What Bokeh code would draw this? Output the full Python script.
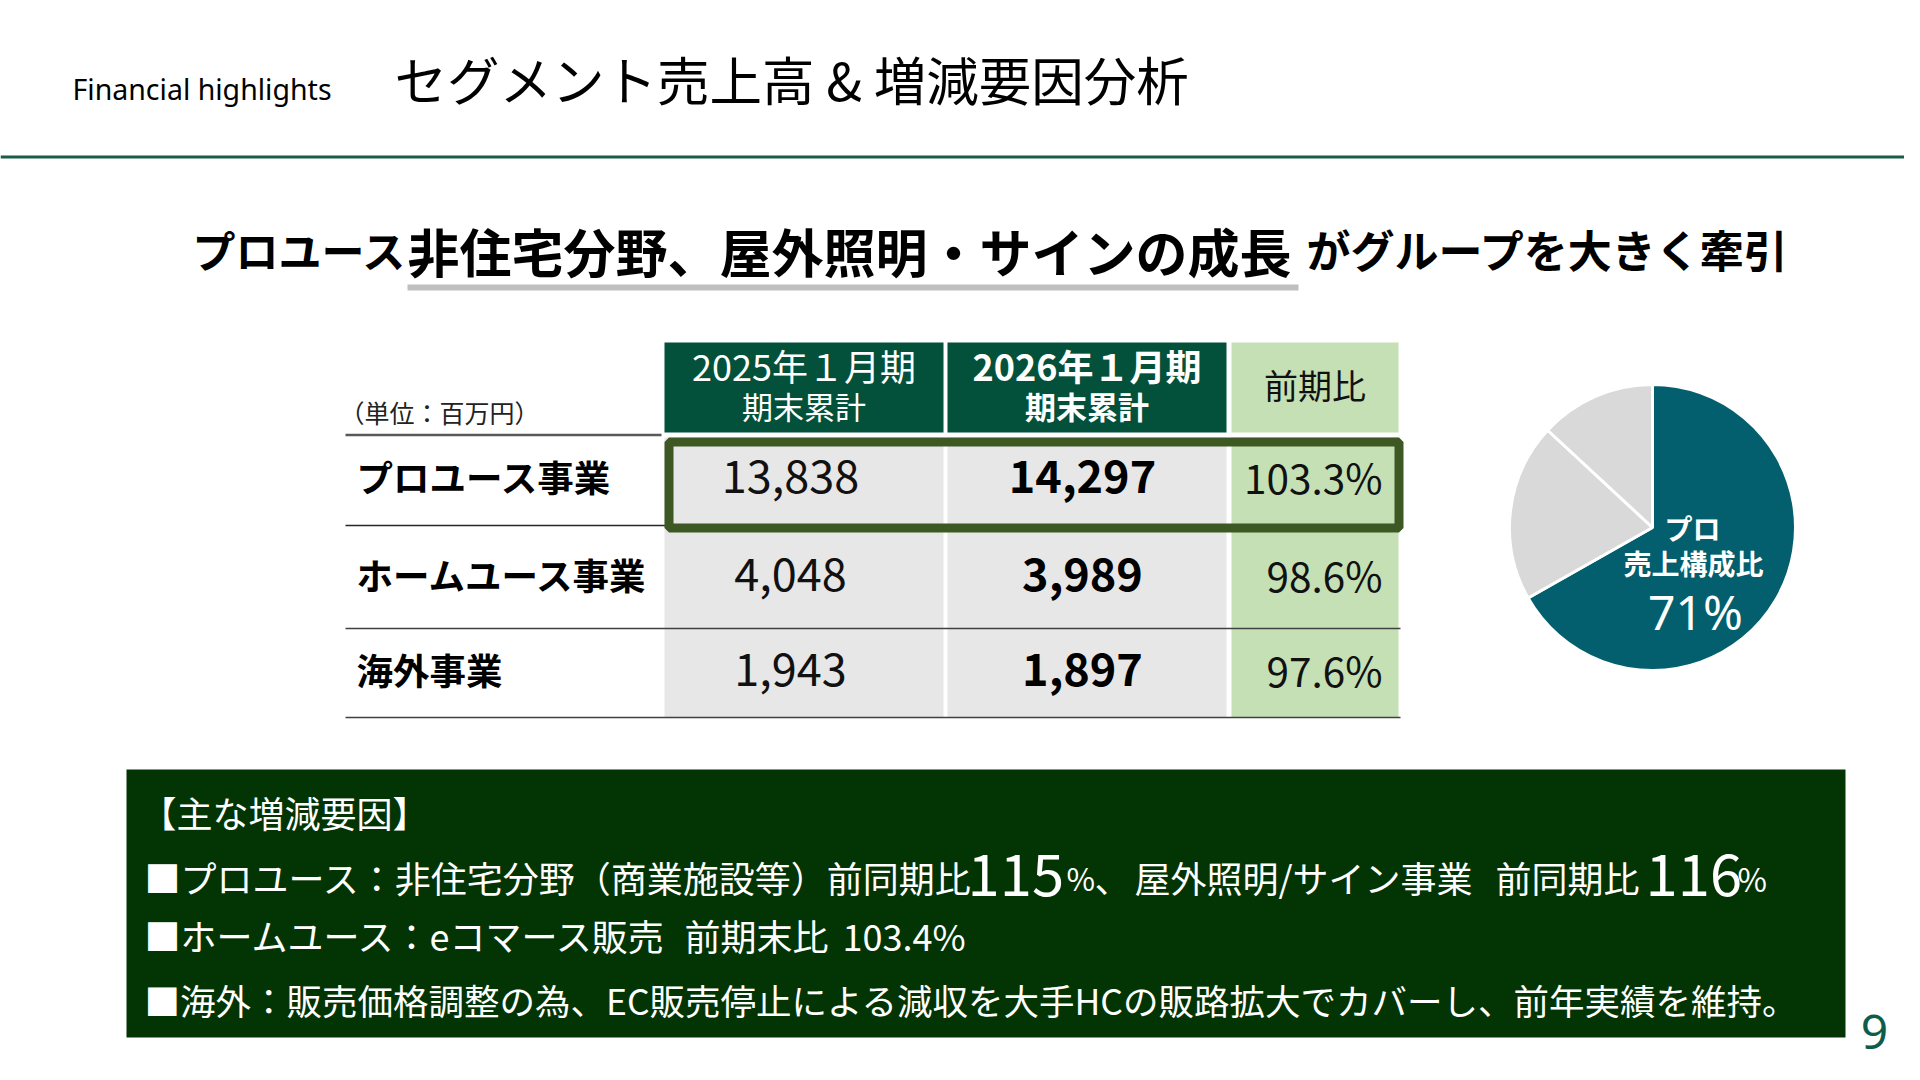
import math
from bokeh.plotting import figure
from bokeh.models import Range1d
from bokeh.core.properties import value
from bokeh.embed import file_html
from bokeh.resources import INLINE

# ---------------- data ----------------
segments = ["プロユース事業", "ホームユース事業", "海外事業"]
sales_2025 = [13838, 4048, 1943]
sales_2026 = [14297, 3989, 1897]
yoy_pct = [103.3, 98.6, 97.6]
col_headers_top = ["2025年１月期", "2026年１月期", "前期比"]
col_headers_sub = ["期末累計", "期末累計", ""]
unit_label = "（単位：百万円）"
pie_labels = ["プロユース", "ホームユース", "海外"]
pie_shares = [66.8, 20.1, 13.1]
pro_share_label = 71
pro_growth = 115
sign_growth = 116
home_ec_growth = 103.4

JP = "Noto Sans CJK JP"
W, H = 1904, 1064

p = figure(width=W, height=H, x_range=Range1d(0, 1904), y_range=Range1d(8, 1072),
           output_backend="svg", toolbar_location=None, min_border=0,
           x_axis_type=None, y_axis_type=None)
p.grid.visible = False
p.outline_line_color = None
p.background_fill_color = "white"
p.border_fill_color = "white"


def Y(v):
    return 1072 - v


def box(x0, y0, x1, y1, fill, line=None, lw=0, alpha=1.0):
    p.quad(left=[x0], right=[x1], top=[Y(y0)], bottom=[Y(y1)], fill_color=fill,
           fill_alpha=alpha, line_color=line, line_width=lw)


def hline(x0, x1, y, color, lw):
    p.segment(x0=[x0], y0=[Y(y)], x1=[x1], y1=[Y(y)], line_color=color, line_width=lw)


def txt(x, y, s, size, color="#000000", bold=False, align="left", font=JP):
    p.text(x=[x], y=[Y(y)], text=[s], text_font=value(font), text_font_size=f"{size}px",
           text_font_style="bold" if bold else "normal", text_color=color,
           text_align=align, text_baseline="middle")


# ---------------- header ----------------
txt(72, 88, "Financial highlights", 28.5, font="Noto Sans")
txt(394, 77, "セグメント売上高 & 増減要因分析", 52.5)
hline(0, 1920, 156.5, "#1a5c44", 3)

# subtitle
box(407, 284, 1298, 290, "#bfbfbf")
txt(192, 248, "プロユース", 43, bold=True)
txt(407, 250, "非住宅分野、屋外照明・サインの成長", 52, bold=True)
txt(1306, 248, "がグループを大きく牽引", 44, bold=True)

# ---------------- table ----------------
cols = [(664, 943), (947, 1226), (1231, 1398)]
head_fill = ["#03513a", "#03513a", "#c5e0b4"]
cell_fill = ["#e7e7e7", "#e7e7e7", "#c5e0b4"]
head_top, head_bot = 342, 432
data_top, data_bot = 437, 717
row_y = [475.5, 573.5, 668.5]

for (x0, x1), hf, cf in zip(cols, head_fill, cell_fill):
    box(x0, head_top, x1, head_bot, hf)
    box(x0, data_top, x1, data_bot, cf)

hline(345, 661, 434.5, "#595959", 2.5)
hline(345, 665, 525, "#262626", 1.5)
hline(345, 1400, 628, "#404040", 1.5)
hline(345, 1400, 717, "#404040", 1.5)

# highlight frame around pro-use row
p.quad(left=[668.5], right=[1398.5], top=[Y(441.5)], bottom=[Y(527.5)], fill_alpha=0,
       line_color="#3d5823", line_width=9)

txt(339, 411, unit_label, 25, color="#222222")

# column headers
for i, ((x0, x1), top, sub) in enumerate(zip(cols, col_headers_top, col_headers_sub)):
    cx = (x0 + x1) / 2
    if sub:
        txt(cx, 364, top, 36, color="white", bold=(i == 1), align="center")
        txt(cx, 405, sub, 31, color="white", bold=(i == 1), align="center")
    else:
        txt(cx, 384, top, 34, color="#111111", align="center")

# row labels and values
for seg, v25, v26, r, y in zip(segments, sales_2025, sales_2026, yoy_pct, row_y):
    txt(356, y, seg, 36.5, bold=True)
    txt(790, y, f"{v25:,}", 45, color="#111111", align="center")
    txt(1082, y, f"{v26:,}", 45, bold=True, align="center")
    txt(1382, y, f"{r:.1f}%", 40.5, color="#111111", align="right")

# ---------------- pie ----------------
cx, cy, rad = 1652, 527, 143
pie_colors = ["#035f6e", "#d9d9d9", "#d9d9d9"]
tot = sum(pie_shares)
start = math.pi / 2
starts, ends = [], []
for s in pie_shares:
    a = 2 * math.pi * s / tot
    starts.append(start)
    ends.append(start - a)
    start -= a
p.wedge(x=[cx] * 3, y=[Y(cy)] * 3, radius=rad, start_angle=starts, end_angle=ends,
        direction="clock", fill_color=pie_colors, line_color="white", line_width=3)

txt(1692, 527, "プロ", 28, color="white", bold=True, align="center")
txt(1693, 562, "売上構成比", 28, color="white", bold=True, align="center")
txt(1695, 611, f"{pro_share_label}%", 48, color="white", align="center", font="Noto Sans")

# ---------------- bottom box ----------------
box(126, 769, 1845, 1037, "#033403")
txt(140, 811, "【主な増減要因】", 36, color="white")
LY1, LY2, LY3 = 876, 934, 999
txt(144, LY1, "■プロユース：非住宅分野（商業施設等）前同期比", 36, color="white")
txt(967, LY1 - 2, f"{pro_growth}", 58, color="white")
txt(1066, LY1 + 1, "%", 31, color="white")
txt(1094, LY1, "、", 36, color="white")
txt(1134, LY1, "屋外照明/サイン事業", 36, color="white")
txt(1495, LY1, "前同期比", 36, color="white")
txt(1645, LY1 - 2, f"{sign_growth}", 58, color="white")
txt(1737, LY1 + 1, "%", 32, color="white")
txt(144, LY2, "■ホームユース：eコマース販売", 36, color="white")
txt(684, LY2, "前期末比", 36, color="white")
txt(842, LY2, f"{home_ec_growth}%", 36, color="white")
txt(144, LY3, "■海外：販売価格調整の為、EC販売停止による減収を大手HCの販路拡大でカバーし、前年実績を維持。", 35.5,
    color="white")

# page number
txt(1874, 1031, "9", 48, color="#0f5c49", align="center", font="Noto Sans")

open("out.html", "w").write(file_html(p, INLINE))
